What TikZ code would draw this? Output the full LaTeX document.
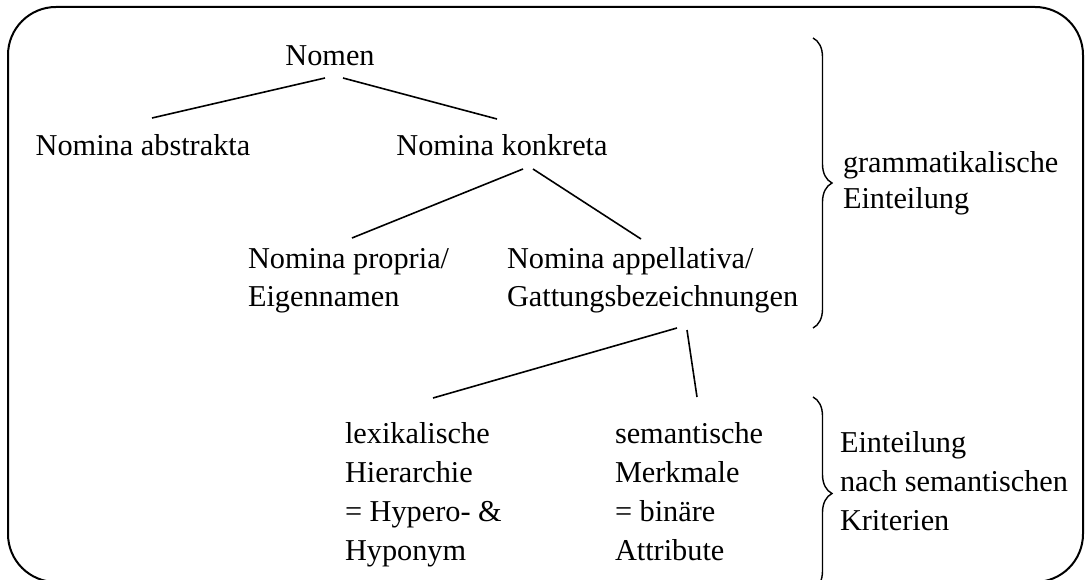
\documentclass[tikz,border=0pt]{standalone}
\usepackage{fontspec}
\setmainfont{Liberation Serif}
\usetikzlibrary{calc,decorations.pathreplacing}
\newcommand\firstline{\rule{0pt}{24pt}}
\begin{document}
\begin{tikzpicture}[x=1pt,y=-1pt,
  txt/.style={inner sep=0pt, outer sep=0pt, font=\fontsize{30.3}{39}\selectfont, align=left},
  txtb/.style={txt, font=\fontsize{30.3}{35.5}\selectfont},
  conn/.style={line width=1.6pt},
  bracestyle/.style={line width=1.4pt, decorate, decoration={brace, amplitude=19pt}},
  frame/.style={line width=2pt, rounded corners=48pt}]
\useasboundingbox (0,0) rectangle (1085,580);
\fill[white] (0,0) rectangle (1085,580);
% frame
\draw[frame] (8,7) rectangle (1083,582);
% nodes
\node[txt, anchor=base] (nomen) at (330,66) {Nomen};
\node[txt, anchor=base] (abstr) at (143,156) {Nomina abstrakta};
\node[txt, anchor=base] (konkr) at (502,156) {Nomina konkreta};
\node[txt, anchor=north west] (propr) at (248,244) {\firstline Nomina propria/\\Eigennamen};
\node[txt, anchor=north west] (appel) at (507,244) {\firstline Nomina appellativa/\\Gattungsbezeichnungen};
\node[txt, anchor=north west] (lex) at (345,419) {\firstline lexikalische\\Hierarchie\\= Hypero- \&\\Hyponym};
\node[txt, anchor=north west] (sem) at (615,419) {\firstline semantische\\Merkmale\\= binäre\\Attribute};
\node[txtb, anchor=north west] (gram) at (843,149) {\firstline grammatikalische\\Einteilung};
\node[txt, anchor=north west] (krit) at (840,428) {\firstline Einteilung\\nach semantischen\\Kriterien};
% connectors
\draw[conn] ($(nomen.base)+(-5,12)$) -- ($(abstr.base)+(9,-38)$);
\draw[conn] ($(nomen.base)+(13,12)$) -- ($(konkr.base)+(-5,-37)$);
\draw[conn] ($(konkr.base)+(21,13)$) -- ($(propr.north west)+(104,-6)$);
\draw[conn] ($(konkr.base)+(31,13)$) -- ($(appel.north west)+(134,-5)$);
\draw[conn] ($(appel.north west)+(170,84)$) -- ($(lex.north west)+(88,-21)$);
\draw[conn] ($(appel.north west)+(180,86)$) -- ($(sem.north west)+(82,-22)$);
% braces
\draw[bracestyle] (813,38) -- (813,328);
\draw[bracestyle] (813,397) -- (813,590);
\end{tikzpicture}
\end{document}
